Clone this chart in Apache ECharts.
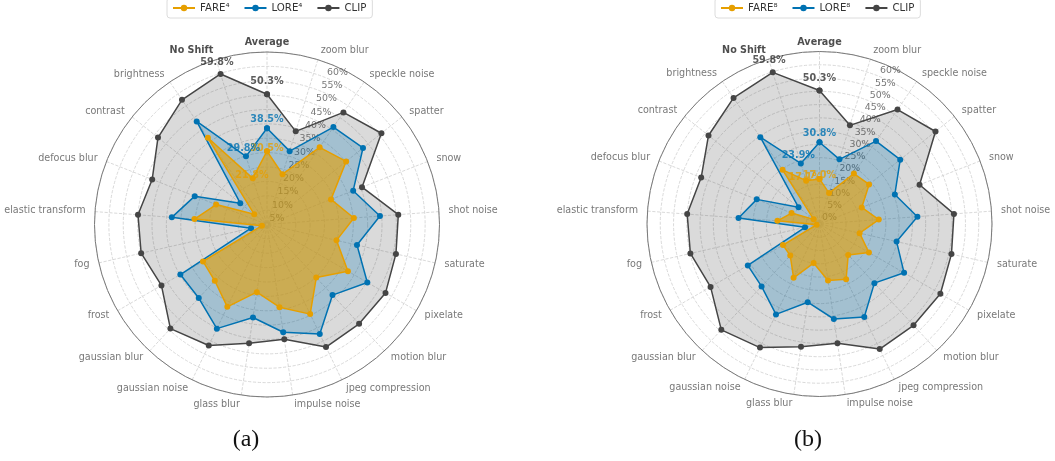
<!DOCTYPE html>
<html>
<head>
<meta charset="utf-8">
<script src="https://cdn.jsdelivr.net/npm/echarts@6/dist/echarts.min.js"></script>
<style>
  html, body { margin: 0; padding: 0; background: #fff; }
  #chart { width: 1055px; height: 461px; }
</style>
</head>
<body>
<div id="chart"></div>
<script>
// Corruption types, clockwise from the top
const categories = [
  'Average', 'zoom blur', 'speckle noise', 'spatter', 'snow', 'shot noise',
  'saturate', 'pixelate', 'motion blur', 'jpeg compression', 'impulse noise',
  'glass blur', 'gaussian noise', 'gaussian blur', 'frost', 'fog',
  'elastic transform', 'defocus blur', 'contrast', 'brightness', 'No Shift'
];
const highlighted = ['Average', 'No Shift'];

// Robust accuracy (%) per category
const clip  = [50.3, 38.9, 52.2, 55.9, 40.5, 50.8, 51.0, 52.6, 52.1, 52.3, 45.4,
               46.8, 51.7, 54.4, 47.4, 49.9, 50.0, 47.9, 53.5, 57.5, 59.8];
const lore4 = [38.5, 31.7, 46.0, 47.7, 37.2, 44.4, 37.1, 45.3, 38.5, 47.3, 42.9,
               37.7, 45.2, 39.9, 39.8, 10.7, 38.2, 32.0, 16.9, 48.4, 29.8];
const fare4 = [30.5, 23.3, 37.5, 40.2, 28.9, 35.3, 29.8, 37.5, 30.2, 39.6, 34.1,
               28.8, 36.8, 31.7, 30.7, 6.8, 30.3, 24.0, 10.7, 41.5, 21.8];
const lore8 = [30.8, 25.5, 37.8, 38.9, 30.5, 37.0, 29.8, 36.8, 30.4, 38.9, 36.2,
               29.8, 37.8, 32.1, 31.2, 5.6, 30.6, 25.4, 10.1, 39.6, 23.9];
const fare8 = [17.0, 12.2, 23.0, 23.9, 17.1, 22.4, 15.5, 21.5, 15.9, 23.1, 21.5,
               14.9, 22.5, 16.2, 15.9, 1.1, 15.9, 11.3, 2.8, 24.7, 17.1];

// Radial tick labels of each panel
const ticksA = [5, 10, 15, 20, 25, 30, 35, 40, 45, 50, 55, 60];
const ticksB = [0, 5, 10, 15, 20, 25, 30, 35, 40, 45, 50, 55, 60];

const COLORS = { fare: '#E69F00', lore: '#0072B2', clip: '#454545' };
const FONT = '"DejaVu Sans", Verdana, sans-serif';
const N = categories.length;
const R_MAX = 65;
const RADIUS_PX = 172.5;
const TICK_ANGLE = 22.5 / 360 * N;   // radial labels sit 22.5° clockwise of north
const LABELLED = [0, N - 1];         // Average and No Shift carry value labels
const theta = i => i / N * 2 * Math.PI;

// closed polygon: repeat the first vertex at the end
function closedRing(values) {
  const pts = values.map((v, i) => [v, i]);
  pts.push([values[0], N]);
  return pts;
}

function radarSeries(name, values, color, areaOpacity, polarIndex, z) {
  return {
    type: 'line', name, coordinateSystem: 'polar', polarIndex,
    data: closedRing(values),
    symbol: 'circle', symbolSize: 6,
    lineStyle: { color, width: 1.5 },
    itemStyle: { color },
    areaStyle: { color, opacity: areaOpacity },
    z, silent: true,
    emphasis: { disabled: true },
    animation: false
  };
}

// bold value annotations for Average and No Shift, lifted outward along the spoke
function valueLabelSeries(values, color, rise, polarIndex, z) {
  return {
    type: 'scatter', coordinateSystem: 'polar', polarIndex,
    data: LABELLED.map(i => ({
      value: [values[i], i],
      label: { offset: [rise * Math.sin(theta(i)), -rise * Math.cos(theta(i))] }
    })),
    symbolSize: 0, z, silent: true, clip: false,
    label: {
      show: true, position: 'inside',
      formatter: p => p.value[0].toFixed(1) + '%',
      color, fontFamily: FONT, fontWeight: 'bold', fontSize: 9.6
    },
    animation: false
  };
}

function tickLabelSeries(ticks, polarIndex) {
  return {
    type: 'scatter', coordinateSystem: 'polar', polarIndex,
    data: ticks.map(t => [t, TICK_ANGLE]),
    symbolSize: 0, z: 1, silent: true, clip: false,
    label: {
      show: true, position: 'inside', offset: [10, -6],
      formatter: p => p.value[0] + '%',
      color: '#555', fontFamily: FONT, fontSize: 9.4
    },
    animation: false
  };
}

// category names just outside the rim, anchored left/right like a polar theta grid
function categoryLabelSeries(min, polarIndex) {
  const r = R_MAX + 9.5 * (R_MAX - min) / RADIUS_PX;
  return {
    type: 'scatter', coordinateSystem: 'polar', polarIndex,
    data: categories.map((name, i) => {
      const s = Math.sin(theta(i));
      const align = s > 0.01 ? 'left' : (s < -0.01 ? 'right' : 'center');
      const bold = highlighted.includes(name);
      return {
        value: [r, i], name,
        label: {
          align, verticalAlign: 'middle',
          fontWeight: bold ? 'bold' : 'normal',
          color: bold ? '#222' : '#555'
        }
      };
    }),
    symbolSize: 0, z: 5, silent: true, clip: false,
    label: {
      show: true, position: 'inside',
      formatter: p => p.name,
      fontFamily: FONT, fontSize: 9.6
    },
    animation: false
  };
}

function polarAxes(min, polarIndex) {
  const angle = {
    type: 'value', polarIndex, min: 0, max: N, interval: 1,
    startAngle: 90, clockwise: true,
    axisLine: { show: true, lineStyle: { color: '#7a7a7a', width: 1 } },
    axisTick: { show: false },
    axisLabel: { show: false },
    splitLine: { show: true, lineStyle: { color: '#cfcfcf', type: 'dashed', width: 0.8 } }
  };
  const radius = {
    type: 'value', polarIndex, min, max: R_MAX, interval: 5,
    axisLine: { show: false }, axisTick: { show: false }, axisLabel: { show: false },
    splitLine: { show: true, lineStyle: { color: '#cfcfcf', type: 'dashed', width: 0.8 } }
  };
  return { angle, radius };
}

const axA = polarAxes(5, 0);
const axB = polarAxes(0, 1);

const legendBase = {
  orient: 'horizontal', top: -2, itemWidth: 22, itemHeight: 8, itemGap: 14,
  padding: [5, 6, 5, 5], borderColor: '#dcdcdc', borderWidth: 1, borderRadius: 3,
  textStyle: { fontFamily: FONT, fontSize: 10.2, color: '#333' },
  selectedMode: false
};

const option = {
  backgroundColor: '#fff',
  animation: false,
  polar: [
    { center: [267, 224.5], radius: RADIUS_PX },
    { center: [819.5, 224], radius: RADIUS_PX }
  ],
  angleAxis: [axA.angle, axB.angle],
  radiusAxis: [axA.radius, axB.radius],
  legend: [
    Object.assign({}, legendBase, { left: 167, data: ['FARE⁴', 'LORE⁴', 'CLIP'] }),
    Object.assign({}, legendBase, { left: 715, data: ['FARE⁸', 'LORE⁸', 'CLIP'] })
  ],
  series: [
    tickLabelSeries(ticksA, 0),
    tickLabelSeries(ticksB, 1),
    radarSeries('CLIP', clip, COLORS.clip, 0.2, 0, 2),
    radarSeries('LORE⁴', lore4, COLORS.lore, 0.25, 0, 3),
    radarSeries('FARE⁴', fare4, COLORS.fare, 0.6, 0, 4),
    radarSeries('CLIP', clip, COLORS.clip, 0.2, 1, 2),
    radarSeries('LORE⁸', lore8, COLORS.lore, 0.25, 1, 3),
    radarSeries('FARE⁸', fare8, COLORS.fare, 0.6, 1, 4),
    categoryLabelSeries(5, 0),
    categoryLabelSeries(0, 1),
    valueLabelSeries(clip, '#333', 12.5, 0, 6),
    valueLabelSeries(fare4, COLORS.fare, 3, 0, 7),
    valueLabelSeries(lore4, COLORS.lore, 8.5, 0, 8),
    valueLabelSeries(clip, '#333', 12.5, 1, 6),
    valueLabelSeries(fare8, COLORS.fare, 3, 1, 7),
    valueLabelSeries(lore8, COLORS.lore, 8.5, 1, 8)
  ],
  graphic: [
    { type: 'text', x: 246, y: 440, style: { text: '(a)', font: '24px "Liberation Serif", serif', fill: '#111', align: 'center', verticalAlign: 'middle' } },
    { type: 'text', x: 808, y: 440, style: { text: '(b)', font: '24px "Liberation Serif", serif', fill: '#111', align: 'center', verticalAlign: 'middle' } }
  ]
};

const chart = echarts.init(document.getElementById('chart'), null, { renderer: 'canvas' });
chart.setOption(option);
</script>
</body>
</html>
